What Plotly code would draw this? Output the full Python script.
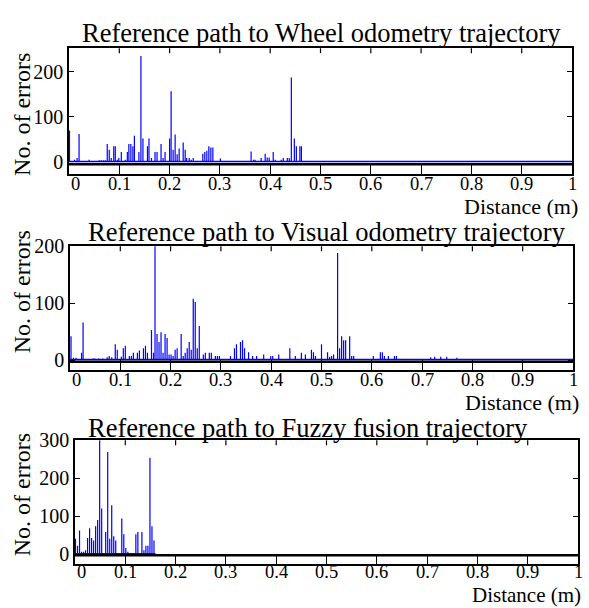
import plotly.graph_objects as go

# ---------------- data ----------------
xtick_vals = [0, 0.1, 0.2, 0.3, 0.4, 0.5, 0.6, 0.7, 0.8, 0.9, 1.0]
xtick_text = ["0", "0.1", "0.2", "0.3", "0.4", "0.5", "0.6", "0.7", "0.8", "0.9", "1"]

titles = [
    "Reference path to Wheel odometry trajectory",
    "Reference path to Visual odometry trajectory",
    "Reference path to Fuzzy fusion trajectory",
]

wheel_x = [0.001, 0.011, 0.016, 0.020, 0.040, 0.060, 0.064, 0.068, 0.072, 0.076,
           0.080, 0.084, 0.089, 0.092, 0.096, 0.099, 0.104, 0.112, 0.116, 0.119,
           0.123, 0.127, 0.130, 0.139, 0.143, 0.147, 0.156, 0.159, 0.164, 0.171,
           0.175, 0.183, 0.187, 0.191, 0.200, 0.203, 0.207, 0.211, 0.215, 0.219,
           0.227, 0.231, 0.234, 0.239, 0.243, 0.247, 0.266, 0.270, 0.274, 0.278,
           0.282, 0.286, 0.301, 0.362, 0.367, 0.370, 0.382, 0.390, 0.394, 0.398,
           0.406, 0.410, 0.422, 0.426, 0.434, 0.438, 0.442, 0.448, 0.452, 0.459,
           0.462]
wheel_y = [70, 5, 9, 62, 5, 4, 4, 4, 4, 40,
           27, 9, 35, 35, 5, 9, 22, 5, 22, 40,
           40, 35, 58, 22, 235, 52, 35, 52, 9, 22,
           22, 40, 9, 22, 52, 157, 27, 61, 17, 30,
           43, 27, 9, 9, 5, 9, 18, 22, 25, 35,
           32, 32, 8, 23, 5, 5, 9, 18, 10, 10,
           22, 5, 5, 9, 9, 9, 187, 52, 35, 35,
           35]

visual_x = [0.002, 0.007, 0.012, 0.023, 0.026, 0.046, 0.049, 0.057, 0.065, 0.074,
            0.078, 0.083, 0.090, 0.094, 0.102, 0.106, 0.110, 0.118, 0.122, 0.126,
            0.134, 0.138, 0.146, 0.150, 0.154, 0.162, 0.166, 0.169, 0.173, 0.177,
            0.181, 0.185, 0.189, 0.193, 0.197, 0.201, 0.205, 0.209, 0.213, 0.221,
            0.225, 0.229, 0.233, 0.237, 0.241, 0.245, 0.249, 0.253, 0.257, 0.265,
            0.269, 0.277, 0.281, 0.289, 0.293, 0.297, 0.319, 0.327, 0.331, 0.339,
            0.343, 0.347, 0.355, 0.363, 0.371, 0.385, 0.399, 0.403, 0.415, 0.437,
            0.448, 0.460, 0.468, 0.480, 0.484, 0.488, 0.500, 0.512, 0.516, 0.520,
            0.524, 0.532, 0.536, 0.540, 0.544, 0.548, 0.556, 0.560, 0.564, 0.603,
            0.617, 0.621, 0.625, 0.633, 0.645, 0.649, 0.717, 0.725, 0.737, 0.749,
            0.769]
visual_y = [42, 4, 4, 13, 66, 3, 3, 3, 3, 5,
            7, 5, 28, 18, 6, 21, 25, 7, 7, 13,
            13, 17, 21, 25, 13, 53, 13, 205, 46, 32,
            49, 13, 46, 39, 10, 10, 7, 18, 21, 46,
            7, 13, 21, 32, 18, 108, 102, 21, 60, 10,
            13, 13, 13, 7, 7, 7, 7, 21, 28, 32,
            35, 21, 14, 7, 7, 10, 7, 7, 10, 21,
            7, 13, 10, 18, 14, 7, 28, 14, 6, 7,
            10, 188, 21, 42, 35, 35, 42, 7, 7, 7,
            14, 14, 7, 7, 7, 7, 5, 6, 6, 6,
            4]

fuzzy_x = [0.001, 0.005, 0.009, 0.013, 0.017, 0.021, 0.025, 0.029, 0.033, 0.037,
           0.041, 0.045, 0.049, 0.053, 0.061, 0.065, 0.069, 0.073, 0.077, 0.081,
           0.093, 0.097, 0.101, 0.105, 0.121, 0.125, 0.133, 0.137, 0.141, 0.145,
           0.149, 0.153, 0.157]
fuzzy_y = [40, 22, 62, 6, 6, 10, 42, 68, 42, 36,
           73, 90, 300, 120, 58, 269, 40, 129, 47, 36,
           94, 52, 16, 6, 52, 58, 58, 10, 22, 22,
           254, 73, 36]

series_x = [wheel_x, visual_x, fuzzy_x]
series_y = [wheel_y, visual_y, fuzzy_y]
floor_end = [1.0, 1.0, 0.16]  # extent of the near-zero blue floor of each series

y_ranges = [[-26, 252], [-17, 200], [-26, 300]]
y_ticks = [[0, 100, 200], [0, 100, 200], [0, 100, 200, 300]]
base_level = [-5, -3, -3]

# ---------------- layout geometry (pixels) ----------------
W, H = 589, 608
boxes = [(69, 572, 38, 166), (70, 573, 240, 366), (75, 578, 438, 564)]
title_left = [80, 86, 86]
title_mid = [22, 225, 425]
xlab_mid = [176, 376, 572]
dist_right = [580, 581, 583]
dist_mid = [199, 399, 596]
dist_size = [22, 22, 21]
ylab_mid = [106, 287, 494]

FONT = "Liberation Serif"
BLUE = "#0000ff"

fig = go.Figure()
shapes = []
annotations = []

for i in range(3):
    xs, ys = series_x[i], series_y[i]
    sx, sy = [], []
    for xv, yv in zip(xs, ys):
        sx += [xv, xv, None]
        sy += [0, yv, None]
    xa = "x" if i == 0 else f"x{i+1}"
    ya = "y" if i == 0 else f"y{i+1}"
    fig.add_trace(go.Scatter(x=sx, y=sy, mode="lines", xaxis=xa, yaxis=ya,
                             line=dict(color=BLUE, width=1.2), hoverinfo="skip",
                             showlegend=False))
    # blue floor of near-zero values
    shapes.append(dict(type="line", xref=xa, yref=ya, x0=0, x1=floor_end[i],
                       y0=1, y1=1, line=dict(color=BLUE, width=1.5)))
    # black base line
    shapes.append(dict(type="line", xref=f"{xa} domain", yref=ya, x0=0, x1=1,
                       y0=base_level[i], y1=base_level[i],
                       line=dict(color="black", width=2.5)))
    # top ticks
    l, r, t, b = boxes[i]
    for tv in xtick_vals[1:-1]:
        shapes.append(dict(type="line", xref=xa, yref=f"{ya} domain", x0=tv, x1=tv,
                           y0=1, y1=1 - 5 / (b - t), line=dict(color="black", width=1.2)))
    # x tick labels
    for k, (tv, tt) in enumerate(zip(xtick_vals, xtick_text)):
        annotations.append(dict(text=tt, xref=xa, yref="paper", x=tv,
                                y=1 - xlab_mid[i] / H, xanchor="center",
                                yanchor="middle", showarrow=False,
                                xshift=6 if k == 0 else 0,
                                font=dict(family=FONT, size=18.5, color="black")))

    axkey = "xaxis" if i == 0 else f"xaxis{i+1}"
    aykey = "yaxis" if i == 0 else f"yaxis{i+1}"
    fig.layout[axkey] = dict(
        domain=[l / W, r / W], anchor=ya, range=[0, 1],
        tickmode="array", tickvals=xtick_vals, showticklabels=False,
        ticks="inside", ticklen=10, tickwidth=1.2, tickcolor="black",
        showline=True, linecolor="black", linewidth=1.5, mirror=True,
        showgrid=False, zeroline=False)
    fig.layout[aykey] = dict(
        domain=[1 - b / H, 1 - t / H], anchor=xa, range=y_ranges[i],
        tickmode="array", tickvals=y_ticks[i],
        ticks="inside", ticklen=5, tickwidth=1.2, tickcolor="black",
        showline=True, linecolor="black", linewidth=1.5, mirror="ticks",
        showgrid=False, zeroline=False,
        tickfont=dict(family=FONT, size=20, color="black"))

    annotations.append(dict(text=titles[i], xref="paper", yref="paper",
                            x=title_left[i] / W, y=1 - title_mid[i] / H,
                            xanchor="left", yanchor="middle", showarrow=False,
                            font=dict(family=FONT, size=26.5, color="black")))
    annotations.append(dict(text="Distance (m)", xref="paper", yref="paper",
                            x=dist_right[i] / W, y=1 - dist_mid[i] / H,
                            xanchor="right", yanchor="middle", showarrow=False,
                            font=dict(family=FONT, size=dist_size[i], color="black")))
    annotations.append(dict(text="No. of errors", xref="paper", yref="paper",
                            x=22 / W, y=1 - ylab_mid[i] / H, textangle=-90,
                            xanchor="center", yanchor="middle", showarrow=False,
                            font=dict(family=FONT, size=24, color="black")))

fig.update_layout(width=W, height=H, margin=dict(l=0, r=0, t=0, b=0),
                  paper_bgcolor="white", plot_bgcolor="white",
                  font=dict(family=FONT, color="black"),
                  showlegend=False, shapes=shapes, annotations=annotations)

fig.write_html("out.html")
